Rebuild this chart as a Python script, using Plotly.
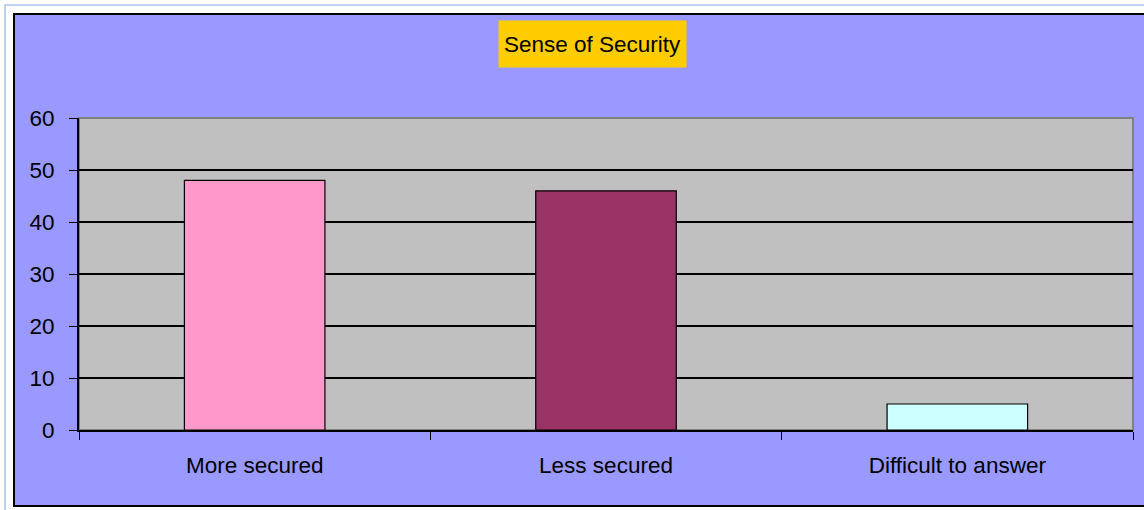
import plotly.graph_objects as go

categories = ["More secured", "Less secured", "Difficult to answer"]
values = [48, 46, 5]
bar_colors = ["#FF99CC", "#993366", "#CCFFFF"]
title_text = "Sense of Security"
y_ticks = [0, 10, 20, 30, 40, 50, 60]

W, H = 1144, 510
L, R, T, B = 79, 1133, 118, 430  # plot area pixel box


def px(x):
    return (x - L) / (R - L)


def py(y):
    return (B - y) / (B - T)


fig = go.Figure(
    go.Bar(
        x=categories,
        y=values,
        width=0.4,
        marker=dict(color=bar_colors, line=dict(color="black", width=1.2)),
        hoverinfo="x+y",
    )
)

shapes = [
    # outer light-blue page frame
    dict(type="rect", xref="paper", yref="paper", layer="below",
         x0=px(5), x1=px(1160), y0=py(5), y1=py(530),
         fillcolor="white", line=dict(color="#A9C6E8", width=1.5)),
    # chart area
    dict(type="rect", xref="paper", yref="paper", layer="below",
         x0=px(14), x1=px(1170), y0=py(14), y1=py(506),
         fillcolor="#9999FF", line=dict(color="black", width=2)),
    # plot area
    dict(type="rect", xref="paper", yref="paper", layer="below",
         x0=0, x1=1, y0=0, y1=1,
         fillcolor="#C0C0C0", line=dict(color="#808080", width=2)),
]

fig.update_layout(
    width=W, height=H,
    margin=dict(l=L, r=W - R, t=T, b=H - B, pad=0),
    paper_bgcolor="white",
    plot_bgcolor="rgba(0,0,0,0)",
    font=dict(family="Liberation Sans, Arial, sans-serif", size=22.5, color="black"),
    showlegend=False,
    bargap=0.6,
    shapes=shapes,
    annotations=[
        dict(text=title_text, xref="paper", yref="paper",
             x=px(592.5), y=py(44), xanchor="center", yanchor="middle",
             showarrow=False, bgcolor="#FFCC00", width=183, height=42,
             borderpad=2, font=dict(size=22.5, color="black")),
    ],
)

fig.update_yaxes(
    range=[0, 60], tickvals=y_ticks, showgrid=True, gridcolor="black", gridwidth=1.5,
    showline=True, linecolor="black", linewidth=2,
    ticks="outside", ticklen=8, tickcolor="black", tickwidth=1.2,
    ticklabelstandoff=10, zeroline=False, fixedrange=True,
)
fig.update_xaxes(
    type="category", tickson="boundaries", showgrid=False,
    showline=True, linecolor="black", linewidth=2,
    ticks="outside", ticklen=8, tickcolor="black", tickwidth=1.2,
    ticklabelstandoff=14, fixedrange=True,
)

fig.write_html("out.html")
